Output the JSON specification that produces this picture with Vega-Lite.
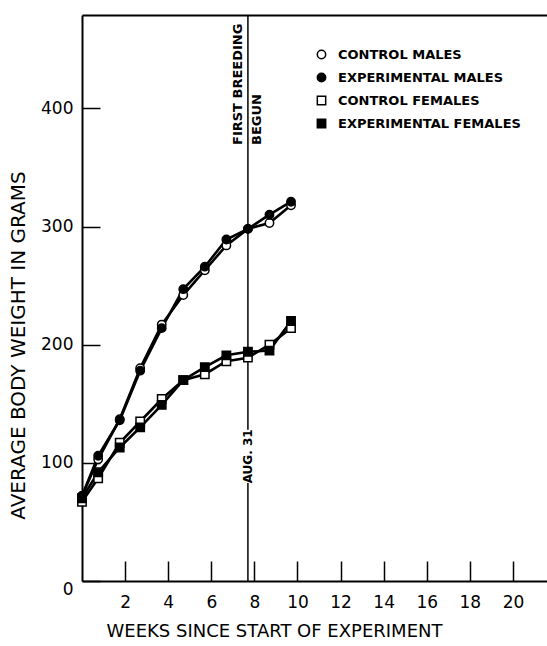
{
  "$schema": "https://vega.github.io/schema/vega-lite/v6.json",
  "width": 465,
  "height": 566,
  "autosize": {"type": "none"},
  "padding": {"left": 82, "top": 15, "right": 0, "bottom": 65},
  "background": "white",
  "config": {
    "view": {"stroke": null},
    "font": "DejaVu Sans",
    "axis": {"domainColor": "black", "tickColor": "black", "labelColor": "black", "titleColor": "black", "grid": false}
  },
  "datasets": {
    "growth": [
      {"week": 0, "grams": 72, "group": "CONTROL MALES"},
      {"week": 0.75, "grams": 103, "group": "CONTROL MALES"},
      {"week": 1.75, "grams": 137, "group": "CONTROL MALES"},
      {"week": 2.7, "grams": 180, "group": "CONTROL MALES"},
      {"week": 3.7, "grams": 217, "group": "CONTROL MALES"},
      {"week": 4.7, "grams": 242, "group": "CONTROL MALES"},
      {"week": 5.7, "grams": 263, "group": "CONTROL MALES"},
      {"week": 6.7, "grams": 284, "group": "CONTROL MALES"},
      {"week": 7.7, "grams": 298, "group": "CONTROL MALES"},
      {"week": 8.7, "grams": 303, "group": "CONTROL MALES"},
      {"week": 9.7, "grams": 318, "group": "CONTROL MALES"},
      {"week": 0, "grams": 72, "group": "EXPERIMENTAL MALES"},
      {"week": 0.75, "grams": 106, "group": "EXPERIMENTAL MALES"},
      {"week": 1.75, "grams": 136, "group": "EXPERIMENTAL MALES"},
      {"week": 2.7, "grams": 178, "group": "EXPERIMENTAL MALES"},
      {"week": 3.7, "grams": 214, "group": "EXPERIMENTAL MALES"},
      {"week": 4.7, "grams": 247, "group": "EXPERIMENTAL MALES"},
      {"week": 5.7, "grams": 266, "group": "EXPERIMENTAL MALES"},
      {"week": 6.7, "grams": 289, "group": "EXPERIMENTAL MALES"},
      {"week": 7.7, "grams": 298, "group": "EXPERIMENTAL MALES"},
      {"week": 8.7, "grams": 310, "group": "EXPERIMENTAL MALES"},
      {"week": 9.7, "grams": 321, "group": "EXPERIMENTAL MALES"},
      {"week": 0, "grams": 67, "group": "CONTROL FEMALES"},
      {"week": 0.75, "grams": 87, "group": "CONTROL FEMALES"},
      {"week": 1.75, "grams": 117, "group": "CONTROL FEMALES"},
      {"week": 2.7, "grams": 135, "group": "CONTROL FEMALES"},
      {"week": 3.7, "grams": 154, "group": "CONTROL FEMALES"},
      {"week": 4.7, "grams": 170, "group": "CONTROL FEMALES"},
      {"week": 5.7, "grams": 175, "group": "CONTROL FEMALES"},
      {"week": 6.7, "grams": 186, "group": "CONTROL FEMALES"},
      {"week": 7.7, "grams": 189, "group": "CONTROL FEMALES"},
      {"week": 8.7, "grams": 200, "group": "CONTROL FEMALES"},
      {"week": 9.7, "grams": 214, "group": "CONTROL FEMALES"},
      {"week": 0, "grams": 70, "group": "EXPERIMENTAL FEMALES"},
      {"week": 0.75, "grams": 92, "group": "EXPERIMENTAL FEMALES"},
      {"week": 1.75, "grams": 113, "group": "EXPERIMENTAL FEMALES"},
      {"week": 2.7, "grams": 130, "group": "EXPERIMENTAL FEMALES"},
      {"week": 3.7, "grams": 149, "group": "EXPERIMENTAL FEMALES"},
      {"week": 4.7, "grams": 170, "group": "EXPERIMENTAL FEMALES"},
      {"week": 5.7, "grams": 181, "group": "EXPERIMENTAL FEMALES"},
      {"week": 6.7, "grams": 191, "group": "EXPERIMENTAL FEMALES"},
      {"week": 7.7, "grams": 194, "group": "EXPERIMENTAL FEMALES"},
      {"week": 8.7, "grams": 195, "group": "EXPERIMENTAL FEMALES"},
      {"week": 9.7, "grams": 220, "group": "EXPERIMENTAL FEMALES"}
    ],
    "segments": [
      {"week": 7.7, "lo": 0, "hi": 83},
      {"week": 7.7, "lo": 128, "hi": 479}
    ],
    "notes": [
      {"week": 7.7, "grams": 369, "label": "FIRST BREEDING", "side": "left"},
      {"week": 7.7, "grams": 369, "label": "BEGUN", "side": "right"},
      {"week": 7.7, "grams": 105.5, "label": "AUG. 31", "side": "center"}
    ]
  },
  "layer": [
    {
      "data": {"name": "segments"},
      "mark": {"type": "rule", "color": "black", "strokeWidth": 1.5},
      "encoding": {
        "x": {"field": "week", "type": "quantitative", "scale": {"domain": [0, 21.58], "nice": false},
              "axis": {"orient": "top", "ticks": false, "labels": false, "title": null, "domainWidth": 2}},
        "y": {"field": "lo", "type": "quantitative", "scale": {"domain": [0, 479], "nice": false}},
        "y2": {"field": "hi"}
      }
    },
    {
      "data": {"name": "notes"},
      "transform": [{"filter": "datum.side == 'left'"}],
      "mark": {"type": "text", "angle": 270, "align": "left", "baseline": "bottom", "dy": -3, "fontSize": 13, "fontWeight": "bold", "color": "black"},
      "encoding": {
        "x": {"field": "week", "type": "quantitative", "axis": null},
        "y": {"field": "grams", "type": "quantitative"},
        "text": {"field": "label"}
      }
    },
    {
      "data": {"name": "notes"},
      "transform": [{"filter": "datum.side == 'right'"}],
      "mark": {"type": "text", "angle": 270, "align": "left", "baseline": "top", "dy": 3, "fontSize": 13, "fontWeight": "bold", "color": "black"},
      "encoding": {
        "x": {"field": "week", "type": "quantitative", "axis": null},
        "y": {"field": "grams", "type": "quantitative"},
        "text": {"field": "label"}
      }
    },
    {
      "data": {"name": "notes"},
      "transform": [{"filter": "datum.side == 'center'"}],
      "mark": {"type": "text", "angle": 270, "align": "center", "baseline": "middle", "fontSize": 12, "fontWeight": "bold", "color": "black"},
      "encoding": {
        "x": {"field": "week", "type": "quantitative", "axis": null},
        "y": {"field": "grams", "type": "quantitative"},
        "text": {"field": "label"}
      }
    },
    {
      "data": {"name": "growth"},
      "mark": {"type": "line", "color": "black", "strokeWidth": 2.6},
      "encoding": {
        "x": {"field": "week", "type": "quantitative",
              "axis": {"orient": "bottom", "values": [2, 4, 6, 8, 10, 12, 14, 16, 18, 20], "tickSize": -20, "tickWidth": 1.5, "domainWidth": 2,
                       "labelFontSize": 17, "labelPadding": 33, "labelFlush": false,
                       "title": "WEEKS  SINCE  START OF EXPERIMENT", "titleFontSize": 18, "titleFontWeight": "normal", "titleX": 192, "titlePadding": 12}},
        "y": {"field": "grams", "type": "quantitative",
              "axis": {"values": [0, 100, 200, 300, 400], "tickSize": -18, "tickWidth": 1.5, "domainWidth": 2,
                       "labelFontSize": 17, "labelPadding": 27, "labelFlush": false,
                       "labelBaseline": {"condition": {"test": "datum.value == 0", "value": "top"}, "value": "middle"},
                       "title": "AVERAGE  BODY  WEIGHT  IN  GRAMS", "titleFontSize": 20, "titleFontWeight": "normal", "titleY": 330, "titleX": -54}},
        "detail": {"field": "group"}
      }
    },
    {
      "data": {"name": "growth"},
      "mark": {"type": "point", "filled": true, "stroke": "black", "strokeWidth": 1.5, "size": 70, "opacity": 1},
      "encoding": {
        "x": {"field": "week", "type": "quantitative", "axis": null},
        "y": {"field": "grams", "type": "quantitative"},
        "shape": {"field": "group", "type": "nominal",
                  "scale": {"domain": ["CONTROL MALES", "EXPERIMENTAL MALES", "CONTROL FEMALES", "EXPERIMENTAL FEMALES"], "range": ["circle", "circle", "square", "square"]},
                  "legend": {"orient": "none", "legendX": 233, "legendY": 33, "title": null, "padding": 0, "labelFontSize": 13, "labelFontWeight": "bold", "labelColor": "black", "labelLimit": 400, "labelOffset": 10, "rowPadding": 8, "symbolSize": 70,
                             "encode": {"symbols": {"update": {"stroke": {"value": "black"}, "strokeWidth": {"value": 1.5}}}}}},
        "fill": {"field": "group", "type": "nominal",
                 "scale": {"domain": ["CONTROL MALES", "EXPERIMENTAL MALES", "CONTROL FEMALES", "EXPERIMENTAL FEMALES"], "range": ["white", "black", "white", "black"]},
                 "legend": {"orient": "none", "legendX": 233, "legendY": 33, "title": null, "padding": 0, "labelFontSize": 13, "labelFontWeight": "bold", "labelColor": "black", "labelLimit": 400, "labelOffset": 10, "rowPadding": 8, "symbolSize": 70,
                            "encode": {"symbols": {"update": {"stroke": {"value": "black"}, "strokeWidth": {"value": 1.5}}}}}}
      }
    }
  ],
  "resolve": {"axis": {"x": "independent"}}
}
